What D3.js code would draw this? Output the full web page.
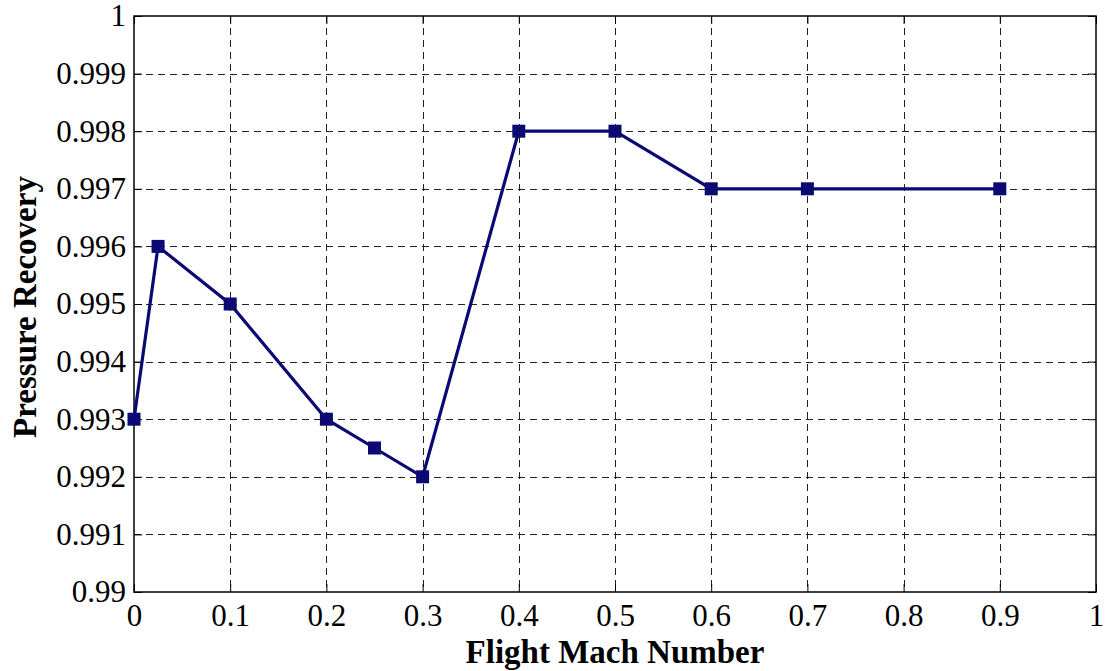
<!DOCTYPE html>
<html>
<head>
<meta charset="utf-8">
<script src="https://cdn.jsdelivr.net/npm/d3@7"></script>
<style>
  body { margin: 0; background: #fff; }
  text { font-family: "Liberation Serif", "Times New Roman", serif; fill: #000; }
</style>
</head>
<body>
<svg id="chart" width="1105" height="671"></svg>
<script>
// data
var machNumbers = [0, 0.025, 0.1, 0.2, 0.25, 0.3, 0.4, 0.5, 0.6, 0.7, 0.9];
var recovery    = [0.993, 0.996, 0.995, 0.993, 0.9925, 0.992, 0.998, 0.998, 0.997, 0.997, 0.997];
var xTicks = [0, 0.1, 0.2, 0.3, 0.4, 0.5, 0.6, 0.7, 0.8, 0.9, 1];
var yTicks = [0.99, 0.991, 0.992, 0.993, 0.994, 0.995, 0.996, 0.997, 0.998, 0.999, 1];

(function() {
var svg = d3.select("#chart");
var pLeft = 134, pRight = 1096, pTop = 16, pBottom = 592;

var x = d3.scaleLinear().domain([0, 1]).range([pLeft, pRight]);
var y = d3.scaleLinear().domain([0.99, 1]).range([pBottom, pTop]);

// grid
var grid = svg.append("g").attr("stroke", "#222").attr("stroke-width", 1).attr("stroke-dasharray", "7,5");
grid.selectAll(".gx").data(xTicks.slice(1, -1)).enter().append("line")
  .attr("x1", function(d){ return Math.round(x(d)) + 0.5; })
  .attr("x2", function(d){ return Math.round(x(d)) + 0.5; })
  .attr("y1", pTop).attr("y2", pBottom);
grid.selectAll(".gy").data(yTicks.slice(1, -1)).enter().append("line")
  .attr("y1", function(d){ return Math.round(y(d)) + 0.5; })
  .attr("y2", function(d){ return Math.round(y(d)) + 0.5; })
  .attr("x1", pLeft).attr("x2", pRight);

// axes (inside ticks, like matlab)
var fmtY = function(d){ return d === 1 ? "1" : d3.format(".3~f")(d); };
var fmtX = function(d){ return d3.format("~g")(d); };

var xAxis = svg.append("g").attr("transform", "translate(0," + pBottom + ")")
  .call(d3.axisBottom(x).tickValues(xTicks).tickSize(-8).tickPadding(12).tickFormat(fmtX));
var xTop = svg.append("g").attr("transform", "translate(0," + pTop + ")")
  .call(d3.axisTop(x).tickValues(xTicks).tickSize(-8).tickFormat(""));
var yAxis = svg.append("g").attr("transform", "translate(" + pLeft + ",0)")
  .call(d3.axisLeft(y).tickValues(yTicks).tickSize(-8).tickPadding(8).tickFormat(fmtY));
var yRight = svg.append("g").attr("transform", "translate(" + pRight + ",0)")
  .call(d3.axisRight(y).tickValues(yTicks).tickSize(-8).tickFormat(""));

[xAxis, xTop, yAxis, yRight].forEach(function(a){
  a.select(".domain").remove();
  a.selectAll("line").attr("stroke", "#000").attr("stroke-width", 1);
  a.selectAll("text").attr("fill", "#000")
    .style("font-family", "'Liberation Serif', serif").style("font-size", "31px");
});

svg.append("rect").attr("x", pLeft).attr("y", pTop).attr("width", pRight - pLeft).attr("height", pBottom - pTop)
  .attr("fill", "none").attr("stroke", "#000").attr("stroke-width", 1.5);

// line + markers
var pts = machNumbers.map(function(m, i){ return [m, recovery[i]]; });
svg.append("path").datum(pts)
  .attr("fill", "none").attr("stroke", "#0a0a72").attr("stroke-width", 3.2)
  .attr("d", d3.line().x(function(d){ return x(d[0]); }).y(function(d){ return y(d[1]); }));

svg.selectAll(".mk").data(pts).enter().append("rect")
  .attr("x", function(d){ return x(d[0]) - 6.5; })
  .attr("y", function(d){ return y(d[1]) - 6.5; })
  .attr("width", 13).attr("height", 13)
  .attr("fill", "#0a0a72");

// labels
svg.append("text").attr("x", (pLeft + pRight) / 2).attr("y", 663)
  .attr("text-anchor", "middle").style("font-size", "33px").attr("font-weight", "bold")
  .text("Flight Mach Number");
svg.append("text").attr("transform", "translate(36," + ((pTop + pBottom) / 2 + 3) + ") rotate(-90)")
  .attr("text-anchor", "middle").style("font-size", "33px").attr("font-weight", "bold")
  .text("Pressure Recovery");
})();
</script>
</body>
</html>
